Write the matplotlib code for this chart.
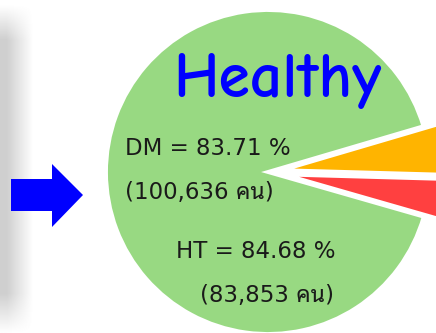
import numpy as np
import matplotlib
matplotlib.use("Agg")
import matplotlib.pyplot as plt
from matplotlib.patches import Polygon

# pie shares (small wedges exploded on the right)
labels = ["Red", "Orange", "Healthy"]
shares = [4.0, 5.0, 91.0]
colors = ["#ff4040", "#ffb400", "#98d982"]
explode = [16, 14, 0]   # data units (pixels) here

title = "Healthy"
notes = ["DM = 83.71 %", "(100,636 คน)", "HT = 84.68 %", "(83,853 คน)"]

W, H = 436, 333
fig = plt.figure(figsize=(W / 100, H / 100), dpi=100)
ax = fig.add_axes([0, 0, 1, 1])

# soft grey shadow on the left edge
xs = np.arange(40)
ys = np.arange(H)
hx = np.clip(1 - (xs - 6) / 26.0, 0, 1)
vy = np.clip(np.minimum((H - ys) / 40.0, (ys - 5) / 35.0), 0, 1)
shade = 1 - 0.19 * np.outer(vy, hx)
ax.imshow(shade, cmap="gray", vmin=0, vmax=1, extent=(0, 40, 0, H),
          origin="upper", zorder=0)

# the pie, cut by the right and bottom edges
ax.pie(shares, colors=colors, explode=explode, startangle=-16,
       center=(268, H - 172), radius=162, frame=True,
       wedgeprops=dict(edgecolor="white", linewidth=2.8))
ax.set_xlim(0, W)
ax.set_ylim(0, H)
ax.set_aspect("equal")
ax.axis("off")

# blue arrow
arrow = Polygon([(11, H - 179), (52, H - 179), (52, H - 164), (83, H - 195),
                 (52, H - 227), (52, H - 211), (11, H - 211)],
                closed=True, facecolor="#0000ff", edgecolor="none", zorder=3)
ax.add_patch(arrow)

ax.text(277, H - 97, title, ha="center", va="baseline", color="#0000ff",
        fontsize=46, fontweight="bold",
        family=["Comic Neue", "Mali", "DejaVu Sans"], zorder=4)

fam = ["DejaVu Sans", "Noto Sans Thai Looped"]
pos = [(125, 155), (125, 199), (176, 258), (200, 302)]
for s, (x, y) in zip(notes, pos):
    ax.text(x, H - y, s, ha="left", va="baseline", color="#1a1a1a",
            fontsize=16.5, family=fam, zorder=4)

fig.savefig("out.png", dpi=100)
